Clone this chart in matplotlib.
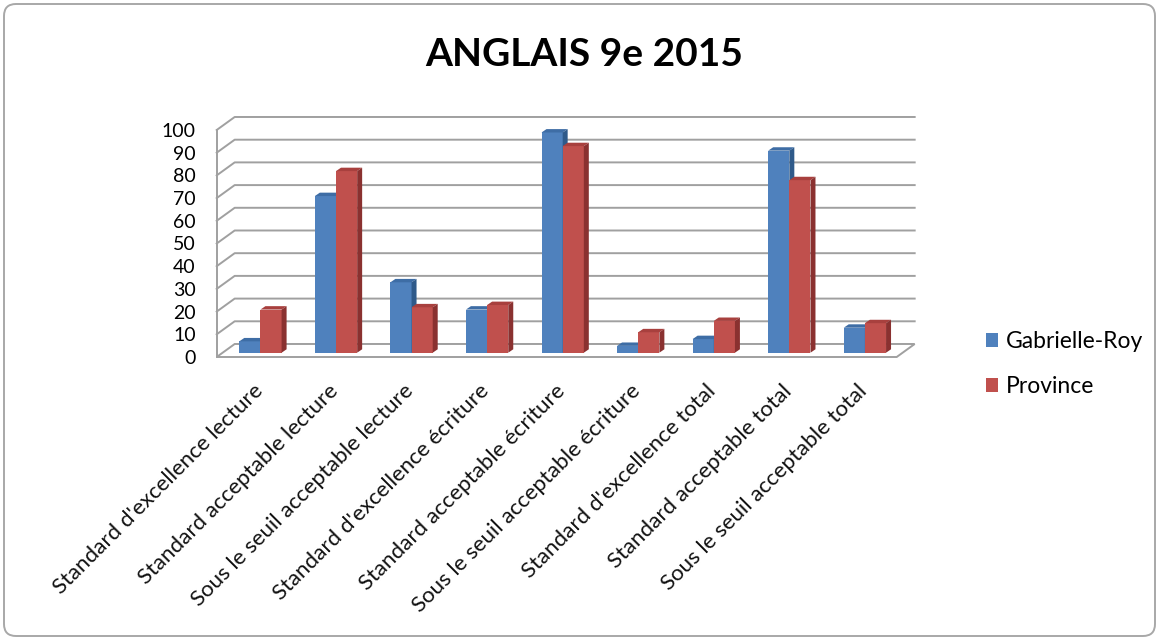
import matplotlib
matplotlib.use("Agg")
import matplotlib.pyplot as plt
from matplotlib.patches import Polygon, FancyBboxPatch
from matplotlib import transforms
import numpy as np

categories = [
    "Standard d'excellence lecture",
    "Standard acceptable lecture",
    "Sous le seuil acceptable lecture",
    "Standard d'excellence écriture",
    "Standard acceptable écriture",
    "Sous le seuil acceptable écriture",
    "Standard d'excellence total",
    "Standard acceptable total",
    "Sous le seuil acceptable total",
]
gabrielle_roy = [5, 69, 31, 19, 97, 3, 6, 89, 11]
province = [19, 80, 20, 21, 91, 9, 14, 76, 13]
series_names = ["Gabrielle-Roy", "Province"]
y_ticks = list(range(0, 101, 10))

# face / top / side colours, Excel 2007 style
blue = ("#4F81BD", "#3E6DA5", "#2F5A8A")
red = ("#C0504D", "#A8403E", "#8A3130")
grid_col = "#A0A0A0"
font = "Lato"

W, H = 1159, 641
fig = plt.figure(figsize=(W / 100, H / 100), dpi=100)

# chart area frame (pixel coords)
bg = fig.add_axes([0, 0, 1, 1])
bg.set_xlim(0, W)
bg.set_ylim(H, 0)
bg.axis("off")
bg.add_patch(FancyBboxPatch((4, 4), W - 8, H - 9,
                            boxstyle="round,pad=0,rounding_size=12",
                            fc="white", ec="#A8A8A8", lw=1.4))

fig.text(584 / W, 1 - 54 / H, "ANGLAIS 9e 2015", ha="center", va="center",
         fontsize=28, fontweight="bold", family=font, color="black")

# axes = front plane of the 3d box
ax = fig.add_axes([216.7 / W, (H - 357) / H, 680 / W, 227 / H])
ax.set_xlim(-0.5, len(categories) - 0.5)
ax.set_ylim(0, 100)
ax.patch.set_alpha(0)
for s in ax.spines.values():
    s.set_visible(False)

gdx, gdy = 0.238, 5.73   # back wall offset
bdx, bdy = 0.079, 1.9    # bar row offset
sdx, sdy = 0.066, 1.5    # bar depth
w = 0.28
xr = len(categories) - 0.5

# floor
ax.add_patch(Polygon([(-0.5, 0), (xr, 0), (xr + gdx, gdy), (-0.5 + gdx, gdy)],
                     closed=True, fc="white", ec=grid_col, lw=1.4, zorder=1,
                     clip_on=False))
# walls / gridlines
for v in y_ticks[1:]:
    ax.plot([-0.5, -0.5 + gdx, xr + gdx], [v, v + gdy, v + gdy],
            color=grid_col, lw=1.4, zorder=1, clip_on=False)
ax.plot([-0.5, -0.5], [0, 100], color=grid_col, lw=1.4, zorder=1, clip_on=False)

x = np.arange(len(categories))
for k, (vals, cols, name) in enumerate([(gabrielle_roy, blue, series_names[0]),
                                        (province, red, series_names[1])]):
    xc = x + bdx + (k - 0.5) * w
    ax.bar(xc, vals, width=w, bottom=bdy, color=cols[0], label=name,
           zorder=3 + k)
    for xi, v in zip(xc, vals):
        x0, x1 = xi - w / 2, xi + w / 2
        t = bdy + v
        ax.add_patch(Polygon([(x0, t), (x1, t), (x1 + sdx, t + sdy), (x0 + sdx, t + sdy)],
                             closed=True, fc=cols[1], ec="none", zorder=3 + k,
                             clip_on=False))
        ax.add_patch(Polygon([(x1, bdy), (x1 + sdx, bdy + sdy), (x1 + sdx, t + sdy), (x1, t)],
                             closed=True, fc=cols[2], ec="none", zorder=3 + k,
                             clip_on=False))

ax.set_xticks([])
ax.set_yticks(y_ticks)
ax.set_yticklabels([str(v) for v in y_ticks], family=font, fontsize=14)
ax.tick_params(axis="y", length=0, pad=15)

lab_tr = transforms.offset_copy(ax.transData, fig=fig, x=5, y=-31, units="dots")
for xi, lab in zip(x, categories):
    ax.text(xi, 0, lab, transform=lab_tr, rotation=45, rotation_mode="anchor",
            ha="right", va="center", family=font, fontsize=16, color="#111111")

ax.legend(loc="center left", bbox_to_anchor=(965 / W, 1 - 364 / H),
          bbox_transform=fig.transFigure, frameon=False, prop={"family": font, "size": 16.5},
          handlelength=0.55, handleheight=0.55, handletextpad=0.35, labelspacing=1.05)

fig.savefig("out.png", dpi=100)
